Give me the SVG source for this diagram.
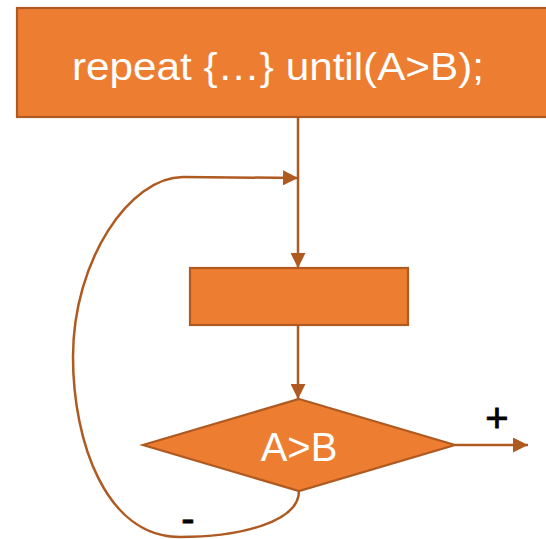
<svg xmlns="http://www.w3.org/2000/svg" width="546" height="539" viewBox="0 0 546 539">
<defs>
<style>
.node{fill:#ED7D31;stroke:#AE5A21;stroke-width:2.2}
.conn{fill:none;stroke:#AE5A21;stroke-width:2.5}
.wt{fill:#ffffff;font-family:"Liberation Sans",Arial,sans-serif}
.bt{fill:#000000;font-family:"Liberation Sans",Arial,sans-serif}
</style>
<marker id="arr" viewBox="0 0 10 10" refX="10" refY="5" markerWidth="16" markerHeight="15" orient="auto" markerUnits="userSpaceOnUse">
<path d="M0,0 L10,5 L0,10 z" fill="#AE5A21"/>
</marker>
</defs>
<g id="connectors">
<line class="conn" x1="298" y1="117" x2="298" y2="268" marker-end="url(#arr)"/>
<line class="conn" x1="298" y1="325" x2="298" y2="399" marker-end="url(#arr)"/>
<line class="conn" x1="455" y1="445" x2="528" y2="445" marker-end="url(#arr)"/>
<path class="conn" d="M299,491 C299,522 240,537 180,537 C105,537 73,440 73,357 C73,260 130,177 183,177 L298,178" marker-end="url(#arr)"/>
</g>
<g id="start">
<rect class="node" x="17" y="8" width="531" height="109"/>
<text class="wt" x="72" y="80" font-size="38" textLength="412" lengthAdjust="spacingAndGlyphs">repeat {…}  until(A&gt;B);</text>
</g>
<g id="body">
<rect class="node" x="190" y="268" width="218" height="57"/>
</g>
<g id="cond">
<polygon class="node" points="299,399 455,445 299,491 143,445"/>
<text class="wt" x="299" y="461" font-size="40" text-anchor="middle">A&gt;B</text>
</g>
<g id="labels">
<text class="bt" x="497" y="432" font-size="40" text-anchor="middle" stroke="#000" stroke-width="0.8">+</text>
<text class="bt" x="188" y="532" font-size="40" text-anchor="middle" stroke="#000" stroke-width="0.8">-</text>
</g>
</svg>
